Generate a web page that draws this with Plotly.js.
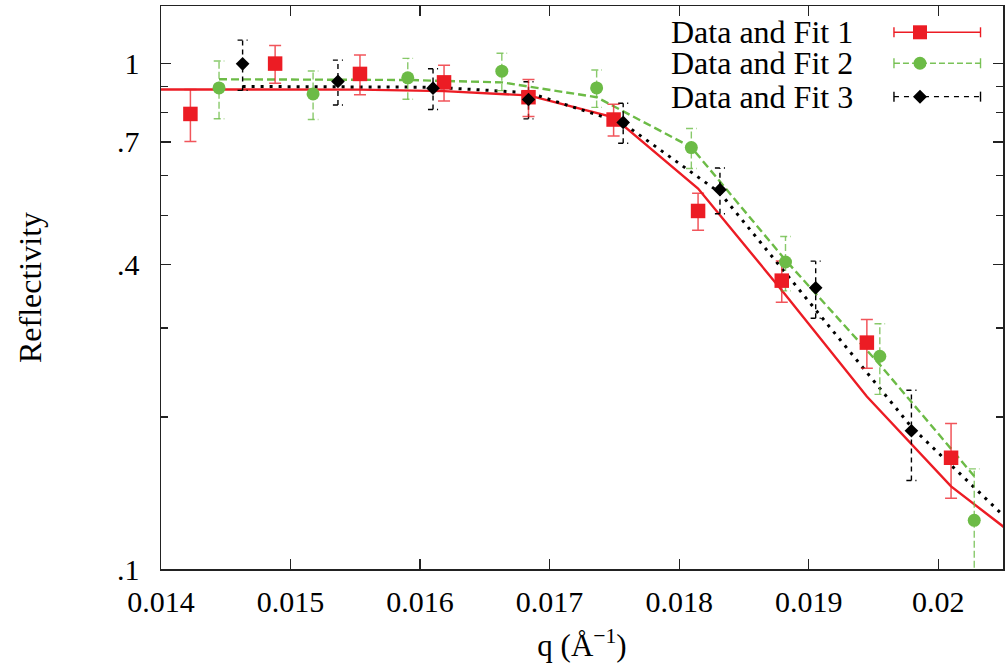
<!DOCTYPE html>
<html>
<head>
<meta charset="utf-8">
<script src="https://cdn.plot.ly/plotly-3.0.1.min.js"></script>
<style>html,body{margin:0;padding:0;background:#fff;}#chart{width:1007px;height:671px;}</style>
</head>
<body>
<div id="chart"></div>
<script>
// ---- Data ----
const seriesNames = ["Data and Fit 1", "Data and Fit 2", "Data and Fit 3"];

const q1 = [0.014227, 0.014881, 0.015536, 0.016185, 0.016837, 0.017494, 0.018146, 0.018792, 0.019449, 0.020099];
const r1 = [0.795, 1.0, 0.954, 0.918, 0.858, 0.775, 0.511, 0.372, 0.2805, 0.166];
const e1 = [0.094, 0.086, 0.086, 0.075, 0.072, 0.056, 0.043, 0.035, 0.031, 0.028];

const q2 = [0.014448, 0.015174, 0.015905, 0.016631, 0.017363, 0.018094, 0.018821, 0.019549, 0.020278];
const r2 = [0.895, 0.871, 0.937, 0.966, 0.895, 0.682, 0.405, 0.2636, 0.1248];
const e2 = [0.117, 0.096, 0.087, 0.082, 0.076, 0.062, 0.050, 0.042, 0.033];

const q3 = [0.01463, 0.015366, 0.0161, 0.016837, 0.017568, 0.018315, 0.019054, 0.019793];
const r3 = [0.999, 0.922, 0.894, 0.849, 0.765, 0.563, 0.360, 0.1877];
const e3 = [0.114, 0.094, 0.0825, 0.0715, 0.0695, 0.0585, 0.0465, 0.038];

// fit curves
const fq1 = [0.013575, 0.014227, 0.014881, 0.015536, 0.016185, 0.016837, 0.017494, 0.018146, 0.018792, 0.019449, 0.020099, 0.02075];
const fr1 = [0.889, 0.889, 0.889, 0.888, 0.882, 0.865, 0.783, 0.566, 0.356, 0.2194, 0.1457, 0.1084];
const fq2 = [0.014448, 0.015174, 0.015905, 0.016631, 0.017363, 0.018094, 0.018821, 0.019549, 0.020278];
const fr2 = [0.931, 0.931, 0.928, 0.918, 0.858, 0.683, 0.4085, 0.2537, 0.1526];
const fq3 = [0.01463, 0.015366, 0.0161, 0.016837, 0.017568, 0.018315, 0.019054, 0.019793, 0.020533];
const fr3 = [0.901, 0.901, 0.898, 0.876, 0.762, 0.555, 0.3254, 0.191, 0.1254];

// ticks
const xTickVals = [0.014, 0.015, 0.016, 0.017, 0.018, 0.019, 0.020];
const xTickText = ["0.014", "0.015", "0.016", "0.017", "0.018", "0.019", "0.02"];
const yTickVals = [0.1, 0.4, 0.7, 1];
const yTickText = [".1", ".4", ".7", "1"];
const yMinorVals = [0.2, 0.3, 0.5, 0.6, 0.8, 0.9];

// ---- styles ----
const RED = "#ec1c24", GREEN = "#6cbb46", BLACK = "#000000";
const FONT = "Liberation Serif, Times New Roman, serif";

// build dashed error bar traces from the data (vertical bar + caps)
function errorTrace(q, r, e, capHalf, color, dash) {
  const xs = [], ys = [];
  for (let i = 0; i < q.length; i++) {
    const lo = Math.max(r[i] - e[i], 0.05), hi = r[i] + e[i];
    xs.push(q[i], q[i], null, q[i] - capHalf, q[i] + capHalf, null, q[i] - capHalf, q[i] + capHalf, null);
    ys.push(lo, hi, null, hi, hi, null, lo, lo, null);
  }
  return {x: xs, y: ys, mode: "lines", line: {color: color, width: 1.4, dash: dash},
          hoverinfo: "skip", showlegend: false, cliponaxis: true};
}

const traces = [
  {x: fq1, y: fr1, mode: "lines", line: {color: RED, width: 2.4}, showlegend: false},
  {x: fq2, y: fr2, mode: "lines", line: {color: GREEN, width: 2.4, dash: "8px,4px"}, showlegend: false},
  {x: fq3, y: fr3, mode: "lines", line: {color: BLACK, width: 3, dash: "3px,6px"}, showlegend: false},
  errorTrace(q2, r2, e2, 0.0000410, "rgba(108,187,70,0.8)", "7px,3px"),
  errorTrace(q3, r3, e3, 0.0000390, BLACK, "5px,4px"),
  {x: q1, y: r1, mode: "markers", name: seriesNames[0], showlegend: false,
   marker: {symbol: "square", size: 14.5, color: RED},
   error_y: {type: "data", array: e1, visible: true, color: "rgba(236,28,36,0.75)", thickness: 1.5, width: 6}},
  {x: q2, y: r2, mode: "markers", name: seriesNames[1], showlegend: false,
   marker: {symbol: "circle", size: 13, color: GREEN}},
  {x: q3, y: r3, mode: "markers", name: seriesNames[2], showlegend: false,
   marker: {symbol: "diamond", size: 10.5, color: BLACK}}
];

// custom legend (text on the left, sample on the right, like gnuplot)
const legRowsY = [0.9533, 0.8983, 0.8390];
const legTextX = 0.8242, legL = 0.8705, legR = 0.9733, legM = 0.9014;
const legColors = [RED, "rgba(108,187,70,0.9)", BLACK];
const legDash = ["solid", "6px,3px", "5px,5px"];
const annotations = [], shapes = [];
for (let i = 0; i < 3; i++) {
  annotations.push({xref: "paper", yref: "paper", x: legTextX, y: legRowsY[i], xanchor: "right", yanchor: "middle",
    text: seriesNames[i], showarrow: false, font: {family: FONT, size: 32, color: "#000"}});
  shapes.push({type: "line", xref: "paper", yref: "paper", x0: legL, x1: legR, y0: legRowsY[i], y1: legRowsY[i],
    line: {color: legColors[i], width: 1.4, dash: legDash[i]}});
  [legL, legR].forEach(function (xc) {
    shapes.push({type: "line", xref: "paper", yref: "paper", xsizemode: "pixel", ysizemode: "pixel",
      xanchor: xc, yanchor: legRowsY[i], x0: 0, x1: 0, y0: -5, y1: 5,
      line: {color: legColors[i], width: 1.4}});
  });
}
const markerBase = {xref: "paper", yref: "paper", xsizemode: "pixel", ysizemode: "pixel", xanchor: legM, line: {width: 0}};
shapes.push(Object.assign({}, markerBase, {type: "rect", yanchor: legRowsY[0], x0: -7, x1: 7, y0: -7, y1: 7, fillcolor: RED}));
shapes.push(Object.assign({}, markerBase, {type: "circle", yanchor: legRowsY[1], x0: -6.5, x1: 6.5, y0: -6.5, y1: 6.5, fillcolor: GREEN}));
shapes.push(Object.assign({}, markerBase, {type: "path", yanchor: legRowsY[2], path: "M0,-7 L7,0 L0,7 L-7,0 Z", fillcolor: BLACK}));

const axisCommon = {
  showline: true, linecolor: "#222", linewidth: 1.5, mirror: "allticks",
  ticks: "inside", ticklen: 10, tickwidth: 1.3, tickcolor: "#222",
  showgrid: false, zeroline: false,
  tickfont: {family: FONT, size: 30, color: "#000"}
};

const layout = {
  width: 1007, height: 671,
  margin: {l: 161, r: 4, t: 6, b: 102},
  paper_bgcolor: "#fff", plot_bgcolor: "#fff",
  showlegend: false,
  font: {family: FONT, color: "#000"},
  xaxis: Object.assign({}, axisCommon, {
    range: [0.014, 0.0205], tickmode: "array", tickvals: xTickVals, ticktext: xTickText,
    ticklabelstandoff: 5,
    title: {text: "q (Å<sup>−1</sup>)", font: {family: FONT, size: 31, color: "#000"}, standoff: 18}
  }),
  yaxis: Object.assign({}, axisCommon, {
    type: "log", range: [-1, Math.log10(1.3)], tickmode: "array", tickvals: yTickVals, ticktext: yTickText,
    ticklabelstandoff: 14,
    minor: {tickmode: "array", tickvals: yMinorVals, ticks: "inside", ticklen: 7, tickwidth: 1.3, tickcolor: "#222", showgrid: false},
    title: {text: "Reflectivity", font: {family: FONT, size: 32, color: "#000"}, standoff: 66}
  }),
  annotations: annotations,
  shapes: shapes
};

Plotly.newPlot("chart", traces, layout, {displayModeBar: false, staticPlot: true});
</script>
</body>
</html>
